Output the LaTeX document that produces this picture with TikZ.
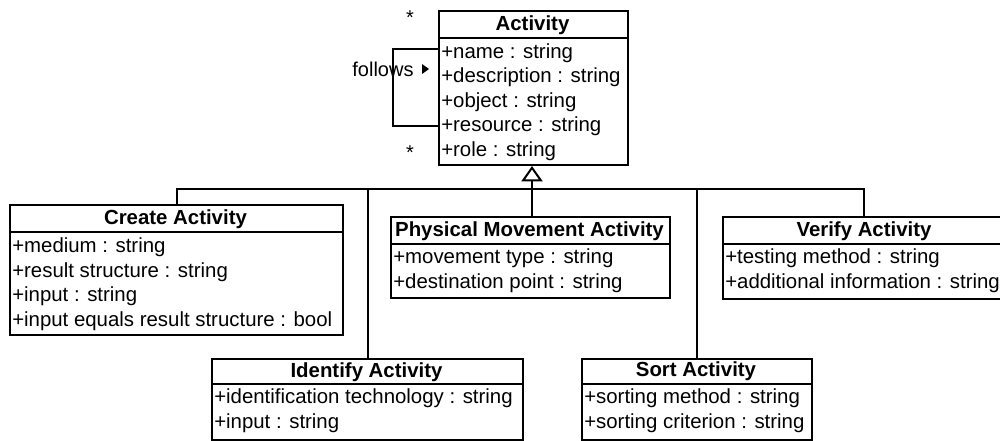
\documentclass[tikz,border=0pt]{standalone}
\usepackage{fontspec}
\setmainfont{Liberation Sans}
\usetikzlibrary{arrows.meta}
\tikzset{
  cls/.style={draw, line width=1.5pt, inner sep=0pt, anchor=north west},
  sep/.style={line width=1.5pt},
  conn/.style={line width=1.5pt},
  hdr/.style={anchor=base, inner sep=0pt, font=\fontsize{15.3}{18}\selectfont\bfseries},
  attr/.style={anchor=base west, inner sep=0pt, font=\fontsize{15.3}{18}\selectfont},
  lbl/.style={anchor=base, inner sep=0pt, font=\fontsize{15}{18}\selectfont},
  gen/.style={-{Triangle[open, width=15.75pt, length=11.5pt, fill=white]}},
}
\begin{document}
\begin{tikzpicture}[x=0.75pt,y=-0.75pt]
\useasboundingbox (0,0) rectangle (1000,440);
% ---------- Activity ----------
\node[cls, minimum width=0.75pt*189, minimum height=0.75pt*154] (act) at (438,10) {};
\draw[sep] (438,38) -- (627,38);
\node[hdr] (actT) at (532.5,30) {Activity};
\node[attr] (a1) at (441,58) {+name : string};
\node[attr] (a2) at (441,82.5) {+description : string};
\node[attr] (a3) at (441,107) {+object : string};
\node[attr] (a4) at (441,131.5) {+resource : string};
\node[attr] (a5) at (441,156) {+role : string};
% self association
\node[lbl] (fol) at (383,76) {follows};
\fill (422,64) -- (429,69) -- (422,74) -- cycle;
\node[lbl] (st1) at (410,24) {*};
\node[lbl] (st2) at (410,159) {*};
\draw[conn] (act.west |- 0,49) -- (393,49) -- (393,126) -- (act.west |- 0,126);
% ---------- Create Activity ----------
\node[cls, minimum width=0.75pt*333, minimum height=0.75pt*130] (cre) at (9,204) {};
\draw[sep] (9,232) -- (342,232);
\node[hdr] (creT) at (175.5,224.5) {Create Activity};
\node[attr] at (12,252.5) {+medium : string};
\node[attr] at (12,277) {+result structure : string};
\node[attr] at (12,301.5) {+input : string};
\node[attr] at (12,326) {+input equals result structure : bool};
% ---------- Physical Movement Activity ----------
\node[cls, minimum width=0.75pt*279, minimum height=0.75pt*81] (phy) at (390,216) {};
\draw[sep] (390,244) -- (669,244);
\node[hdr] (phyT) at (529.5,236) {Physical Movement Activity};
\node[attr] at (393,263.5) {+movement type : string};
\node[attr] at (393,288) {+destination point : string};
% ---------- Verify Activity ----------
\node[cls, minimum width=0.75pt*284, minimum height=0.75pt*82] (ver) at (722,216) {};
\draw[sep] (722,243.5) -- (1006,243.5);
\node[hdr] (verT) at (864,236) {Verify Activity};
\node[attr] at (725,263.5) {+testing method : string};
\node[attr] at (725,288) {+additional information : string};
% ---------- Identify Activity ----------
\node[cls, minimum width=0.75pt*311, minimum height=0.75pt*81] (idn) at (211,358) {};
\draw[sep] (211,384) -- (522,384);
\node[hdr] (idnT) at (366.5,377) {Identify Activity};
\node[attr] at (214,403.5) {+identification technology : string};
\node[attr] at (214,428) {+input : string};
% ---------- Sort Activity ----------
\node[cls, minimum width=0.75pt*230, minimum height=0.75pt*81] (srt) at (581,358) {};
\draw[sep] (581,384) -- (811,384);
\node[hdr] (srtT) at (696,376.5) {Sort Activity};
\node[attr] at (584,403.5) {+sorting method : string};
\node[attr] at (584,428) {+sorting criterion : string};
% ---------- generalization tree ----------
\coordinate (j) at (532,189);
\draw[conn, gen] (j) -- (j |- act.south);
\draw[conn] (cre.north) -- (cre.north |- j) -- (864,189) coordinate (jr) -- (jr |- ver.north);
\draw[conn] (idn.north) -- (idn.north |- j);
\draw[conn] (j) -- (j |- phy.north);
\draw[conn] (srt.north) -- (srt.north |- j);
\end{tikzpicture}
\end{document}
